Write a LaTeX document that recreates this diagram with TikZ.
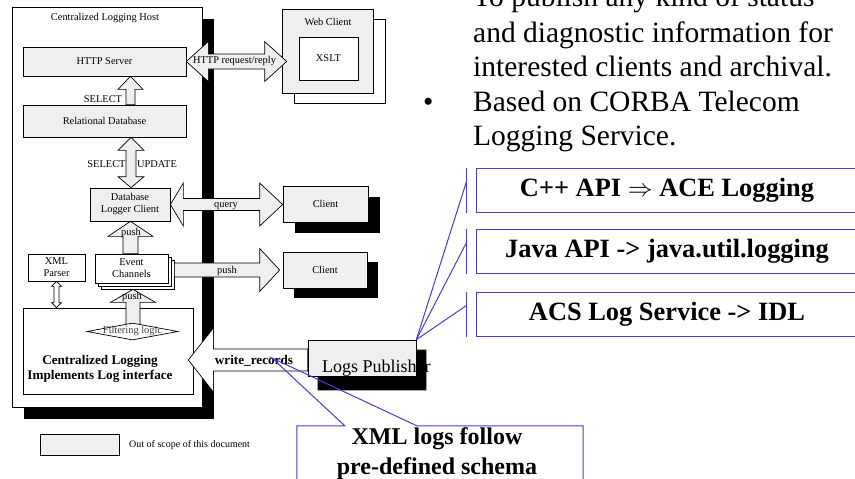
\documentclass[tikz,border=0pt]{standalone}
\usepackage{fontspec}
\setmainfont{Liberation Serif}
\usetikzlibrary{calc,shapes.geometric}

\definecolor{boxgray}{RGB}{239,239,239}
\definecolor{callblue}{RGB}{64,64,221}

\newcommand\smallfont{\fontsize{10.4}{12}\selectfont}
\newcommand\boldlabel{\fontsize{13.2}{14.5}\selectfont\bfseries}
\newcommand\bodyfont{\fontsize{29.5}{34}\selectfont}
\newcommand\calloutfont{\fontsize{26.4}{30}\selectfont\bfseries}
\newcommand\notefont{\fontsize{24}{30}\selectfont\bfseries}

% block arrow pointing up: style, tail, tip, shaft half width, head half width, head length
\newcommand\blkup[6]{%
  \draw[#1] let \p1=(#2), \p2=(#3) in
    (\x2,\y2) -- (\x2+#5,\y2-#6) -- (\x2+#4,\y2-#6) -- (\x2+#4,\y1)
    -- (\x2-#4,\y1) -- (\x2-#4,\y2-#6) -- (\x2-#5,\y2-#6) -- cycle;}
% vertical double block arrow: style, upper tip, lower tip, shaft, head, upper head length, lower head length
\newcommand\blkv[7]{%
  \draw[#1] let \p1=(#2), \p2=(#3) in
    (\x1,\y1) -- (\x1+#5,\y1-#6) -- (\x1+#4,\y1-#6) -- (\x1+#4,\y2+#7)
    -- (\x1+#5,\y2+#7) -- (\x1,\y2) -- (\x1-#5,\y2+#7) -- (\x1-#4,\y2+#7)
    -- (\x1-#4,\y1-#6) -- (\x1-#5,\y1-#6) -- cycle;}
% horizontal double block arrow: style, left tip, right tip, shaft, head, left head length, right head length
\newcommand\blkh[7]{%
  \draw[#1] let \p1=(#2), \p2=(#3) in
    (\x1,\y1) -- (\x1+#6,\y1+#5) -- (\x1+#6,\y1+#4) -- (\x2-#7,\y1+#4)
    -- (\x2-#7,\y1+#5) -- (\x2,\y1) -- (\x2-#7,\y1-#5) -- (\x2-#7,\y1-#4)
    -- (\x1+#6,\y1-#4) -- (\x1+#6,\y1-#5) -- cycle;}
% horizontal single block arrow: style, tail, tip, shaft, head, head length
\newcommand\blkhs[6]{%
  \draw[#1] let \p1=(#2), \p2=(#3), \n1={sign(\x2-\x1)} in
    (\x2,\y2) -- (\x2-\n1*#6,\y2+#5) -- (\x2-\n1*#6,\y2+#4) -- (\x1,\y2+#4)
    -- (\x1,\y2-#4) -- (\x2-\n1*#6,\y2-#4) -- (\x2-\n1*#6,\y2-#5) -- cycle;}

\begin{document}
\begin{tikzpicture}[x=1pt,y=-1pt,
  gbox/.style={draw, line width=0.7pt, fill=boxgray, inner sep=0pt, font=\smallfont, align=center},
  wbox/.style={gbox, fill=white},
  blk/.style={draw, line width=0.7pt, fill=boxgray, line join=miter},
  blkw/.style={blk, fill=white},
  lbl/.style={font=\smallfont, inner sep=0pt},
  cbox/.style={draw=callblue, line width=1pt, fill=white, font=\calloutfont, inner sep=0pt},
  cline/.style={draw=callblue, line width=1pt},
  body/.style={font=\bodyfont, anchor=base west, inner sep=0pt}]

\useasboundingbox (0,0) rectangle (855,479);
\clip (0,0) rectangle (855,479);
\fill[white] (0,0) rectangle (855,479);

% logging host with its drop shadow
\fill[black] (24,19) rectangle (214,419);
\node[draw, line width=0.7pt, fill=white, minimum width=190pt, minimum height=400pt, inner sep=0pt] (host) at (107,207) {};
\node[lbl] (hostlbl) at (105,18) {Centralized Logging Host};

% web client
\node[wbox, minimum width=91pt, minimum height=84pt] (wcb) at (339.5,61) {};
\node[gbox, minimum width=91pt, minimum height=84pt] (wc) at (327.5,51) {};
\node[lbl] (wclbl) at (328,22) {Web Client};
\node[wbox, minimum width=59pt, minimum height=43pt] (xslt) at (328.5,58.5) {XSLT};

% components inside the host
\node[gbox, minimum width=163pt, minimum height=29pt] (http) at (104.5,61.5) {HTTP Server};
\node[gbox, minimum width=163pt, minimum height=32pt] (rdb) at (104.5,121) {Relational Database};
\node[gbox, minimum width=80pt, minimum height=33pt] (dblc) at (130,204.5) {Database\\Logger Client};
\node[wbox, minimum width=57pt, minimum height=27pt] (xmlp) at (56.5,267.5) {XML\\Parser};
\node[wbox, minimum width=73pt, minimum height=29pt] (ec3) at (137.5,274.5) {};
\node[wbox, minimum width=73pt, minimum height=29pt] (ec2) at (134.5,271.5) {};
\node[wbox, minimum width=73pt, minimum height=29pt] (ec) at (131.5,268.5) {Event\\Channels};
\node[wbox, minimum width=170pt, minimum height=86pt] (cl) at (108,351) {};
\coordinate (filtc) at (132.5,331.5);
\node[font=\boldlabel, align=center, inner sep=0pt] (cltext) at (100,369) {Centralized Logging\\Implements Log interface};

% clients with drop shadows
\fill[black] (295,197) rectangle (380,233);
\node[gbox, minimum width=85pt, minimum height=36pt] (cl1) at (325.5,204) {Client};
\fill[black] (294,262) rectangle (378,298);
\node[gbox, minimum width=84pt, minimum height=36pt] (cl2) at (325,270) {Client};

% block arrows
\blkup{blk}{rdb.north}{$(http.south)+(26,0)$}{4.5pt}{12.5pt}{13pt}
\blkv{blk}{$(rdb.south)+(26.5,0)$}{dblc.north}{5pt}{13pt}{13pt}{11pt}
\blkup{blk}{ec.north}{$(dblc.south)+(0.5,0)$}{7.5pt}{22.5pt}{15pt}
\blkup{blk}{filtc}{$(ec3.south)+(-4.5,0)$}{7pt}{22.5pt}{13pt}
\blkv{blkw}{xmlp.south}{$(xmlp.south |- cl.north)$}{2.5pt}{5pt}{5pt}{5pt}
\blkh{blk}{dblc.east}{cl1.west}{6pt}{21.5pt}{13pt}{23pt}
\blkh{blk}{http.east}{$(wc.west)+(5,0)$}{7.5pt}{20pt}{22pt}{22pt}
\blkhs{blk}{ec3.east}{$(cl2.west)+(-3,0)$}{7pt}{21.5pt}{20pt}

% filtering step sits over the end of its arrow
\node[diamond, draw, line width=0.7pt, fill=white, minimum width=91pt, minimum height=17pt, inner sep=0pt] (filt) at (filtc) {};
\node[lbl, text=black!75] (filtlbl) at (filt.center) {Filtering logic};

% arrow labels
\node[lbl] (lsel) at (103,99) {SELECT};
\node[lbl] (lsel2) at (106.5,164) {SELECT};
\node[lbl] (lupd) at (157,164) {UPDATE};
\node[lbl] (lpush1) at (131,233) {push};
\node[lbl] (lpush2) at (132,297) {push};
\node[lbl] (lquery) at (226,206) {query};
\node[lbl] (lpush3) at (227,271) {push};
\node[lbl] (lhttp) at (234.5,61) {HTTP request/reply};

% logs publisher and write_records
\node[gbox, minimum width=108pt, minimum height=36pt] (lp) at (362,358) {};
\blkhs{blkw}{lp.west}{$(cl.east)+(-5,9)$}{11pt}{32pt}{25pt}
\node[font=\boldlabel, inner sep=0pt] (lwr) at (254,361) {write\_records};
\node[font=\fontsize{18}{20}\selectfont, anchor=base west, inner sep=0pt] (lptext) at (322,372) {Logs Publisher};
\fill[black] ($(lp.north east)+(0,10)$) -- ($(lp.north east)+(10,10)$) -- ($(lp.south east)+(10,14)$)
  -- ($(lp.south west)+(10,14)$) -- ($(lp.south west)+(10,0)$) -- (lp.south east) -- cycle;

% legend
\node[gbox, minimum width=79pt, minimum height=21pt] (leg) at (79.5,444.5) {};
\node[lbl, anchor=west, font=\fontsize{10}{12}\selectfont] (legtext) at (129,445) {Out of scope of this document};

% bullet text
\node[body] (t1) at (473,6) {To publish any kind of status};
\node[body] (t2) at (473,42) {and diagnostic information for};
\node[body] (t3) at (473,76) {interested clients and archival.};
\node[body] (bul) at (423,111) {\textbullet};
\node[body] (t4) at (473,111) {Based on CORBA Telecom};
\node[body] (t5) at (473,145) {Logging Service.};

% line callouts
\node[cbox, minimum width=382pt, minimum height=44pt] (c1) at (667,190) {C++ API $\Rightarrow$ ACE Logging};
\node[cbox, minimum width=382pt, minimum height=44pt] (c2) at (667,251) {Java API -> java.util.logging};
\node[cbox, minimum width=382pt, minimum height=44pt] (c3) at (667,314) {ACS Log Service -> IDL};
\foreach \c in {c1,c2,c3}{
  \draw[cline] ($(\c.north west)+(-9,0)$) -- ($(\c.south west)+(-9,0)$);
  \draw[cline] ($(\c.north west)+(-9,14)$) -- (lp.north east);
}

% callout for the record format
\coordinate (wrtip) at (272,358);
\node[fill=white, minimum width=286pt, minimum height=84pt, inner sep=0pt] (xmlnote) at (440,468) {};
\draw[cline] (xmlnote.south west) -- (xmlnote.north west) -- ($(xmlnote.north west)+(48,0)$) -- (wrtip)
  -- ($(xmlnote.north west)+(120,0)$) -- (xmlnote.north east) -- (xmlnote.south east);
\node[font=\notefont, align=center, inner sep=0pt] (xmltext) at (437,454) {XML logs follow\\pre-defined schema};

\end{tikzpicture}
\end{document}
